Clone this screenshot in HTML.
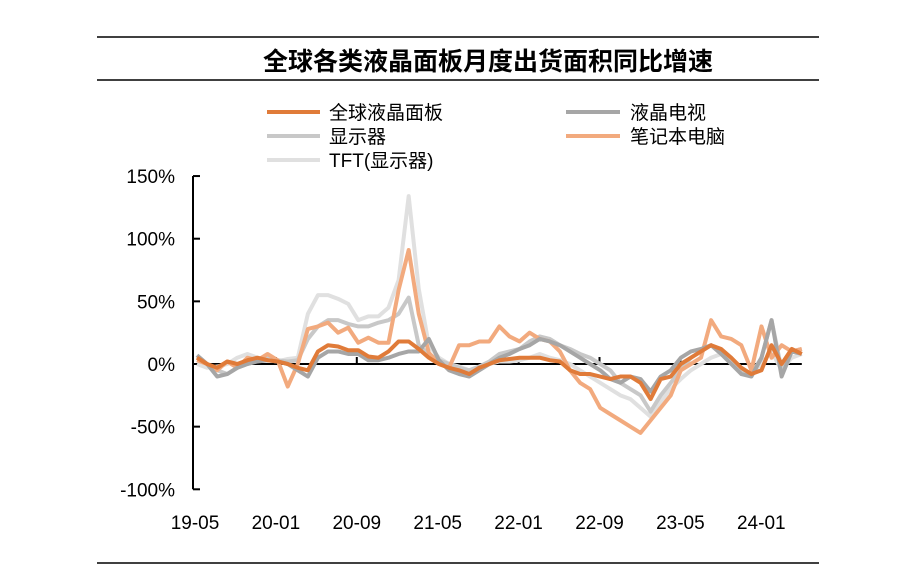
<!DOCTYPE html>
<html><head><meta charset="utf-8"><style>
body{margin:0;background:#fff;font-family:"Liberation Sans","Noto Sans CJK SC",sans-serif;}
</style></head><body>
<svg width="909" height="570" style="display:block">
<line x1="97" y1="37" x2="819" y2="37" stroke="#000" stroke-width="1.5"/>
<line x1="97" y1="80" x2="819" y2="80" stroke="#000" stroke-width="1.5"/>
<line x1="97" y1="563" x2="819" y2="563" stroke="#000" stroke-width="1.5"/>
<text x="488" y="70" text-anchor="middle" font-size="25" font-weight="bold">全球各类液晶面板月度出货面积同比增速</text>
<g id="legend" font-size="19">
<line x1="267" y1="112" x2="320" y2="112" stroke="#E07B39" stroke-width="4"/><text x="329" y="119">全球液晶面板</text>
<line x1="566" y1="112" x2="620" y2="112" stroke="#A6A6A6" stroke-width="4"/><text x="630" y="119">液晶电视</text>
<line x1="267" y1="136" x2="320" y2="136" stroke="#C8C8C8" stroke-width="4"/><text x="329" y="143">显示器</text>
<line x1="566" y1="136" x2="620" y2="136" stroke="#F2AA7E" stroke-width="4"/><text x="630" y="143">笔记本电脑</text>
<line x1="267" y1="160" x2="320" y2="160" stroke="#E0E0E0" stroke-width="4"/><text x="329" y="167">TFT(显示器)</text>
</g>
<g id="axes"></g>
<g id="series"></g>
</svg>
<script>
const xLabels=["19-05","20-01","20-09","21-05","22-01","22-09","23-05","24-01"];
const yTicks=[150,100,50,0,-50,-100];
const seriesNames=["TFT(显示器)","显示器","笔记本电脑","液晶电视","全球液晶面板"];
const tft=[0,-3,-2,0,5,8,5,3,2,4, 5,40,55,55,52,48,35,38,38,45,67,134,60,15,5,0,-2,-5,-3,0, 2,2,3,5,8,5,3,0,-5,-10,-15,-20,-25,-28,-35,-42,-30,-20,-12,-5,0,5,8,2,-5,-8,0,10,-5,5,8];
const monitor=[5,0,-5,-8,-3,0,3,5,3,2, 3,20,30,35,35,32,30,30,33,35,40,53,15,8,3,0,-3,-5,-2,2, 8,10,12,18,22,20,15,12,8,5,0,-5,-15,-20,-25,-38,-25,-15,-5,5,10,15,10,5,-5,-8,5,35,-5,10,12];
const notebook=[3,0,-5,2,-3,5,3,8,3,-18, 0,28,30,33,25,29,17,21,17,17,59,91,40,9,0,-3,15,15,18,18, 30,22,18,25,20,18,10,-5,-15,-20,-35,-40,-45,-50,-55,-45,-35,-25,-5,0,5,35,22,20,15,-5,30,5,15,10,12];
const tv=[7,0,-10,-8,-3,0,2,3,2,0, -5,-10,5,10,10,8,8,3,3,5,8,10,10,20,3,-5,-8,-10,-5,0, 5,8,12,15,20,18,15,10,5,0,-5,-12,-15,-10,-12,-22,-10,-5,5,10,12,15,8,0,-8,-10,5,35,-10,10,8];
const global=[5,0,-3,2,0,3,5,3,2,0, -3,-5,10,15,14,11,11,6,5,10,18,18,12,5,0,-3,-5,-8,-3,0, 3,4,5,5,5,3,2,-5,-8,-8,-10,-12,-10,-10,-15,-28,-12,-10,0,5,10,15,12,5,-3,-8,-5,15,0,12,8];
const allSeries=[tft,monitor,notebook,tv,global];
const colors=["#E0E0E0","#C8C8C8","#F2AA7E","#A6A6A6","#E07B39"];
const NS="http://www.w3.org/2000/svg";
const x0=197,dx=10.08,y0=364,sy=1.253,axX=193,tick0=195,tickStep=80.9;
const xs=i=>x0+dx*i, ys=v=>y0-v*sy;
const ax=document.getElementById('axes'),sg=document.getElementById('series');
function mk(t,a,p){const e=document.createElementNS(NS,t);for(const k in a)e.setAttribute(k,a[k]);p.appendChild(e);return e;}
const yAxis=mk('line',{x1:axX,y1:ys(150),x2:axX,y2:ys(-100),stroke:'#000','stroke-width':2},ax);


yTicks.forEach(v=>{
 mk('line',{x1:axX,y1:ys(v),x2:axX+7,y2:ys(v),stroke:'#000','stroke-width':2},ax);
 const t=mk('text',{x:175,y:ys(v)+7,'text-anchor':'end','font-size':19},ax);
 t.textContent=v+'%';
 
 
});
const xAxis=mk('line',{x1:axX,y1:y0,x2:xs(60),y2:y0,stroke:'#000','stroke-width':2},ax);


xLabels.forEach((l,k)=>{
 const x=tick0+tickStep*k;
 if(k>0)mk('line',{x1:x,y1:y0,x2:x,y2:y0-7,stroke:'#000','stroke-width':2},ax);
 const t=mk('text',{x:x,y:529,'text-anchor':'middle','font-size':19},ax);
 t.textContent=l;
 
 
});
allSeries.forEach((s,j)=>{
 const p=mk('polyline',{points:s.map((v,i)=>xs(i)+','+ys(v)).join(' '),fill:'none',stroke:colors[j],'stroke-width':4,'stroke-linejoin':'round'},sg);
 
 
});
</script>
</body></html>
